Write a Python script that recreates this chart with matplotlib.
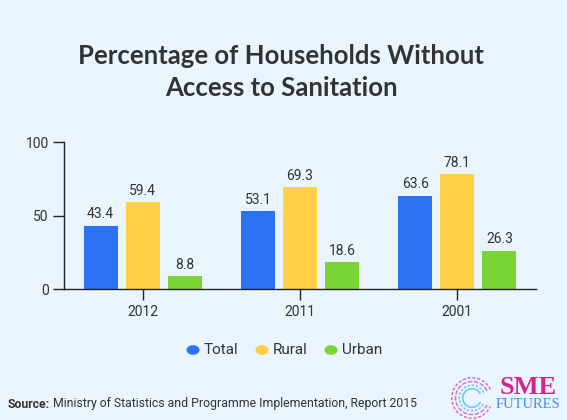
import numpy as np
import matplotlib.pyplot as plt
from matplotlib.patches import Circle, Arc

years = ['2012', '2011', '2001']
series = ['Total', 'Rural', 'Urban']
total = [43.4, 53.1, 63.6]
rural = [59.4, 69.3, 78.1]
urban = [8.8, 18.6, 26.3]

bg = '#EAF4FD'
text_col = '#333333'
colors = ['#2D72F5', '#FFD043', '#7AD337']

fig = plt.figure(figsize=(5.67, 4.2), dpi=100, facecolor=bg)
W, H = 567, 420

# title
fig.text(281 / W, 1 - 56 / H, 'Percentage of Households Without', ha='center', va='center',
         fontsize=18.5, fontweight='bold', family='Lato', color=text_col)
fig.text(281 / W, 1 - 88 / H, 'Access to Sanitation', ha='center', va='center',
         fontsize=18.5, fontweight='bold', family='Lato', color=text_col)

ax = fig.add_axes([64 / W, 1 - 289.3 / H, 472 / W, 147 / H])
ax.set_facecolor(bg)

x = np.arange(len(years))
w = 0.2166
off = 0.2675
for i, (vals, c) in enumerate(zip([total, rural, urban], colors)):
    pos = x + (i - 1) * off
    ax.bar(pos, vals, width=w, color=c, zorder=2)
    for p, v in zip(pos, vals):
        ax.text(p, v + 3, f'{v:.1f}', ha='center', va='bottom', fontsize=10,
                family='Roboto', color=text_col)

ax.set_xlim(-0.5, 2.5)
ax.set_ylim(0, 100)
ax.set_yticks([0, 50, 100])
ax.set_xticks(x)
ax.set_xticklabels(years)
for s in ['top', 'right']:
    ax.spines[s].set_visible(False)
for s in ['left', 'bottom']:
    ax.spines[s].set_color('#222222')
    ax.spines[s].set_linewidth(1.0)
ax.tick_params(axis='both', length=8, width=1.0, color='#222222', labelcolor=text_col,
               labelsize=10, pad=3)
for lab in ax.get_xticklabels() + ax.get_yticklabels():
    lab.set_family('Roboto')

# legend
leg_x = [193, 262, 331]
for lx, name, c in zip(leg_x, series, colors):
    fig.patches.append(Circle((lx / W, 1 - 350 / H), 6.5 / W, transform=fig.transFigure,
                              facecolor=c, edgecolor='none'))
    fig.text((lx + 11) / W, 1 - 350 / H, name, ha='left', va='center', fontsize=11,
             family='Roboto', color=text_col)

# source
t1 = fig.text(8 / W, 1 - 404 / H, 'Source:', ha='left', va='center', fontsize=8.8,
              family='Roboto', fontweight='bold', color=text_col)
fig.canvas.draw()
bb = t1.get_window_extent()
fig.text((bb.x1 + 3) / W, 1 - 404 / H, 'Ministry of Statistics and Programme Implementation, Report 2015',
         ha='left', va='center', fontsize=8.8, family='Roboto', color=text_col)

# logo
lax = fig.add_axes([450 / W, 1 - 420 / H, 44 / W, 44 / H])
lax.set_xlim(-1, 1)
lax.set_ylim(-1, 1)
lax.axis('off')
for r, c, ls in [(0.92, '#E56BB4', (0, (2, 1.2))), (0.75, '#C27FD8', (0, (3, 1))),
                 (0.58, '#7FB6F0', (0, (1.5, 1.2))), (0.42, '#5FC8EE', '-')]:
    lax.add_patch(Arc((0, 0), 2 * r, 2 * r, theta1=25, theta2=335, color=c, lw=1.1, ls=ls))
fig.text(528 / W, 1 - 387 / H, 'SME', ha='center', va='center', fontsize=19,
         family='Liberation Serif', fontweight='bold', color='#D6248C')
fig.text(528 / W, 1 - 405 / H, 'FUTURES', ha='center', va='center', fontsize=10.5,
         family='Liberation Serif', color='#4A90D9')

fig.savefig('out.png', dpi=100, facecolor=bg)
